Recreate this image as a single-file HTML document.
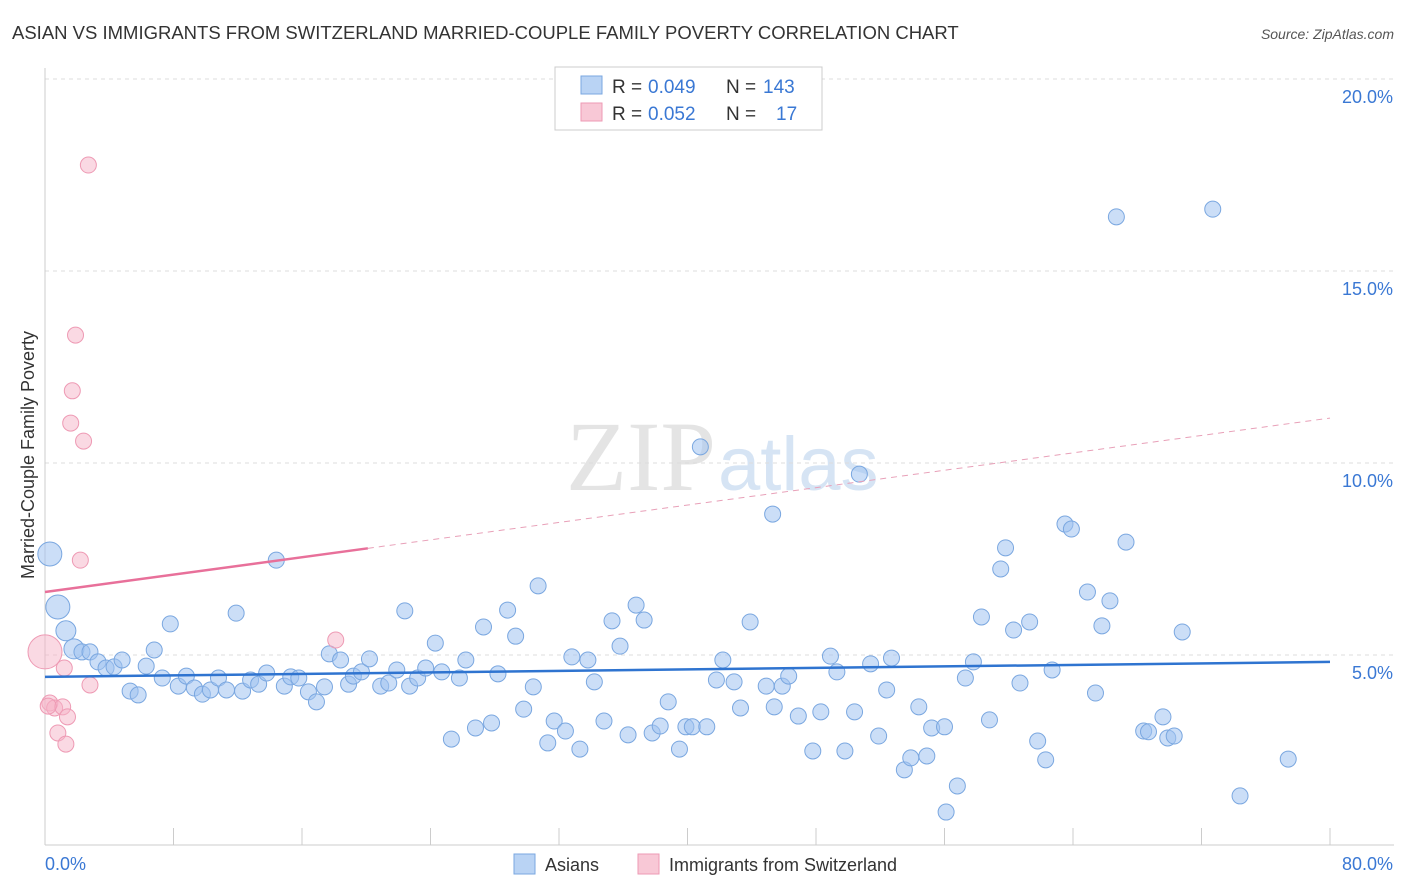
<!DOCTYPE html>
<html><head><meta charset="utf-8"><style>
body{margin:0;background:#fff;font-family:"Liberation Sans",sans-serif;}
svg{display:block}
</style></head><body>
<svg id="chart" width="1406" height="892">
<text x="12" y="39" font-size="18.5" fill="#333">ASIAN VS IMMIGRANTS FROM SWITZERLAND MARRIED-COUPLE FAMILY POVERTY CORRELATION CHART</text>
<text x="1394" y="39" font-size="14" fill="#555" font-style="italic" text-anchor="end">Source: ZipAtlas.com</text>
<text x="716" y="490" font-size="100" fill="#e4e4e4" text-anchor="end" font-family="Liberation Serif,serif">ZIP</text>
<text x="718" y="490" font-size="76" fill="#d6e4f4">atlas</text>
<text transform="translate(34,455) rotate(-90)" font-size="18" fill="#333" text-anchor="middle">Married-Couple Family Poverty</text>
<g id="grid"></g><g id="marks"></g>
<g>
<rect x="555" y="67" width="267" height="63" fill="#fff" stroke="#ccc"/>
<rect x="581" y="76" width="21" height="18" fill="#b9d3f4" stroke="#7aa7e0"/>
<text x="612" y="93" font-size="19" fill="#333">R =</text>
<text x="648" y="93" font-size="19" fill="#3a78d4">0.049</text>
<text x="726" y="93" font-size="19" fill="#333">N =</text>
<text x="763" y="93" font-size="19" fill="#3a78d4">143</text>
<rect x="581" y="103" width="21" height="18" fill="#f8c8d6" stroke="#ee9ab4"/>
<text x="612" y="120" font-size="19" fill="#333">R =</text>
<text x="648" y="120" font-size="19" fill="#3a78d4">0.052</text>
<text x="726" y="120" font-size="19" fill="#333">N =</text>
<text x="776" y="120" font-size="19" fill="#3a78d4">17</text>
</g>
<g>
<rect x="514" y="854" width="21" height="20" fill="#b9d3f4" stroke="#7aa7e0"/>
<text x="545" y="871" font-size="18" fill="#333">Asians</text>
<rect x="638" y="854" width="21" height="20" fill="#f8c8d6" stroke="#ee9ab4"/>
<text x="669" y="871" font-size="18" fill="#333">Immigrants from Switzerland</text>
</g>
</svg>
<script>
const xTicks=[0,8,16,24,32,40,48,56,64,72,80];
const yTicks=[5,10,15,20];
const asianX=[0.3,0.8,1.3,1.8,2.3,2.8,3.3,3.8,4.3,4.8,5.3,5.8,6.3,6.8,7.3,7.8,8.3,8.8,9.3,9.8,10.3,10.8,11.3,11.9,12.3,12.8,13.3,13.8,14.4,14.9,15.3,15.8,16.4,16.9,17.4,17.7,18.4,18.9,19.2,19.7,20.2,20.9,21.4,21.9,22.4,22.7,23.2,23.7,24.3,24.7,25.3,25.8,26.2,26.8,27.3,27.8,28.2,28.8,29.3,29.8,30.4,30.7,31.3,31.7,32.4,32.8,33.3,33.8,34.2,34.8,35.3,35.8,36.3,36.8,37.3,37.8,38.3,38.8,39.5,39.9,40.3,41.2,40.8,41.8,42.2,42.9,43.3,43.9,44.9,45.3,45.4,45.9,46.3,46.9,47.8,48.3,48.9,49.3,49.8,50.4,50.7,51.4,51.9,52.4,52.7,53.5,53.9,54.4,54.9,55.2,56.0,56.1,56.8,57.3,57.8,58.3,58.8,59.5,59.8,60.3,60.7,61.3,61.8,62.3,62.7,63.5,63.9,64.9,65.4,65.8,66.3,66.7,67.3,68.4,68.7,69.6,69.9,70.3,70.8,72.7,74.4,77.4];
const asianY=[7.63,6.25,5.63,5.16,5.08,5.08,4.82,4.66,4.69,4.87,4.06,3.96,4.71,5.13,4.40,5.81,4.19,4.45,4.14,3.98,4.09,4.40,4.09,6.09,4.06,4.35,4.24,4.53,7.47,4.19,4.43,4.40,4.04,3.78,4.17,5.03,4.87,4.24,4.45,4.56,4.90,4.19,4.27,4.61,6.15,4.19,4.40,4.66,5.31,4.56,2.81,4.40,4.87,3.10,5.73,3.23,4.51,6.17,5.49,3.59,4.17,6.80,2.71,3.28,3.02,4.95,2.55,4.87,4.30,3.28,5.89,5.23,2.92,6.30,5.91,2.97,3.15,3.78,2.55,3.13,3.13,3.13,10.42,4.35,4.87,4.30,3.62,5.86,4.19,8.67,3.65,4.19,4.45,3.41,2.50,3.52,4.97,4.56,2.50,3.52,9.71,4.77,2.89,4.09,4.92,2.01,2.32,3.65,2.37,3.10,3.13,0.91,1.59,4.40,4.82,5.99,3.31,7.24,7.79,5.65,4.27,5.86,2.76,2.27,4.61,8.41,8.28,6.64,4.01,5.76,6.41,16.41,7.94,3.02,3.00,3.39,2.84,2.89,5.60,16.61,1.33,2.29];
const swissX=[0,0.3,0.6,0.8,1.1,1.2,1.3,1.4,1.6,1.7,1.9,2.2,2.4,2.7,2.8,18.1,0.2];
const swissY=[5.08,3.75,3.62,2.97,3.65,4.66,2.68,3.39,11.04,11.88,13.33,7.47,10.57,17.76,4.22,5.39,3.67];
const asianTrend=[4.43,4.82];
const swissTrend=[6.64,11.17];
const swissSolidEnd=20.1;
const NS="http://www.w3.org/2000/svg";
const X=v=>45+v/80*1285, Y=v=>847-v*38.4;
function mk(t,a,p){const e=document.createElementNS(NS,t);for(const k in a)e.setAttribute(k,a[k]);p.appendChild(e);return e;}
const grid=document.getElementById('grid'), marks=document.getElementById('marks');
yTicks.forEach(t=>{
 const l=mk('line',{x1:45,x2:1394,y1:Y(t),y2:Y(t),stroke:'#ddd','stroke-dasharray':'4,4'},grid);
 
 
 const tx=mk('text',{x:1393,y:Y(t)+24,'font-size':18,fill:'#3a78d4','text-anchor':'end'},grid);
 tx.textContent=t.toFixed(1)+'%';
 
 
});
const ax=mk('line',{x1:45,x2:1394,y1:845,y2:845,stroke:'#ccc'},grid);


const ay=mk('line',{x1:45,x2:45,y1:68,y2:845,stroke:'#ccc'},grid);


xTicks.forEach((t,i)=>{
 if(i>0){const l=mk('line',{x1:X(t),x2:X(t),y1:828,y2:845,stroke:'#ccc'},grid);
 
 }
});
[[0,'start',45],[80,'end',1393]].forEach(([t,a,x])=>{
 const tx=mk('text',{x:x,y:870,'font-size':18,fill:'#3a78d4','text-anchor':a},grid);
 tx.textContent=t.toFixed(1)+'%';
 
 
});
asianX.forEach((v,i)=>{
 const r=i<2?12:(i<4?10:8);
 const c=mk('circle',{cx:X(v),cy:Y(asianY[i]),r:r,fill:'rgba(160,195,240,0.55)',stroke:'#7aa7e0','stroke-width':1},marks);
 
 
});
swissX.forEach((v,i)=>{
 const r=i===0?17:8;
 const c=mk('circle',{cx:X(v),cy:Y(swissY[i]),r:r,fill:'rgba(246,180,200,0.5)',stroke:'#ee9ab4','stroke-width':1},marks);
 
 
});
const bl=mk('line',{x1:X(0),y1:Y(asianTrend[0]),x2:X(80),y2:Y(asianTrend[1]),stroke:'#2f74d0','stroke-width':2.5},marks);


const sy=x=>swissTrend[0]+(swissTrend[1]-swissTrend[0])*x/80;
const pl=mk('line',{x1:X(0),y1:Y(sy(0)),x2:X(swissSolidEnd),y2:Y(sy(swissSolidEnd)),stroke:'#e8709a','stroke-width':2.5},marks);


const pd=mk('line',{x1:X(swissSolidEnd),y1:Y(sy(swissSolidEnd)),x2:X(80),y2:Y(sy(80)),stroke:'#e8a0b8','stroke-width':1,'stroke-dasharray':'6,5'},marks);


</script>
</body></html>
